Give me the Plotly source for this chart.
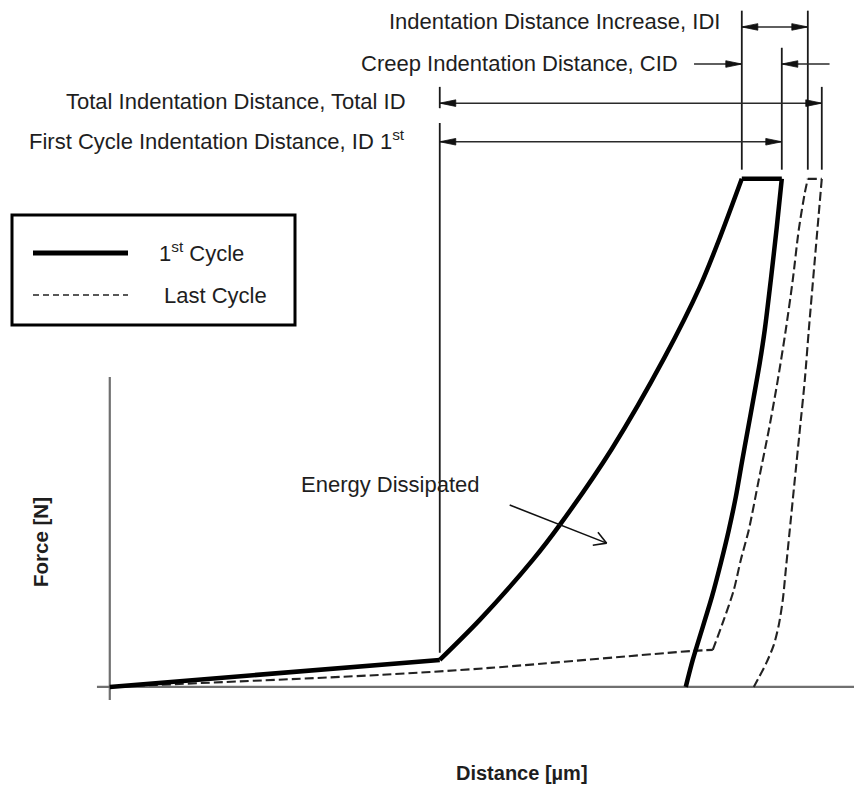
import math
import plotly.graph_objects as go

# ---------------------------------------------------------------------------
# Indentation cycle data (distance in arbitrary µm units, force in % of peak)
# ---------------------------------------------------------------------------
# First cycle: loading branch (linear approach, then contact curve up to peak)
first_load_x = [0, 46.29, 51.90, 59.34, 63.13, 70.42, 77.86, 82.77, 85.57, 88.66]
first_load_y = [0, 5.31, 13.19, 25.00, 31.89, 46.84, 64.95, 78.73, 88.37, 100]
# First cycle: unloading branch (starts after the hold at peak force)
first_unload_x = [94.27, 93.57, 92.73, 91.88, 91.18, 90.34, 89.50, 88.66, 87.82, 86.84, 85.72, 84.46, 81.78, 80.80]
first_unload_y = [100, 90.54, 80.11, 70.27, 63.77, 57.08, 50.58, 44.09, 37.40, 30.90, 24.40, 17.71, 5.31, 0]

# Last cycle: loading branch (approach up to contact, then contact curve)
last_load_x = [0, 37.88, 53.31, 81.78, 84.59, 86.13, 87.54, 88.52, 89.64, 91.04, 92.45, 93.71, 94.83, 95.81, 96.65, 97.50, 97.92]
last_load_y = [0, 2.36, 3.74, 7.09, 7.28, 13.19, 19.09, 25.00, 30.90, 40.74, 50.58, 60.42, 70.27, 80.11, 89.95, 97.23, 100]
# Last cycle: unloading branch
last_unload_x = [99.88, 98.90, 98.06, 97.50, 96.80, 96.09, 95.39, 94.83, 94.41, 93.85, 93.15, 92.17, 91.18, 90.34]
last_unload_y = [100, 84.04, 70.27, 60.42, 50.58, 40.74, 30.90, 23.03, 17.12, 12.20, 8.27, 4.92, 2.17, 0]

# index of the contact point on each loading branch
FIRST_CONTACT = 1
LAST_CONTACT = 4

series_names = ["1st Cycle", "Last Cycle"]

# Dimension labels
label_idi = "Indentation Distance Increase, IDI"
label_cid = "Creep Indentation Distance, CID"
label_total = "Total Indentation Distance, Total ID"
label_first = "First Cycle Indentation Distance, ID 1<sup>st</sup>"
label_energy = "Energy Dissipated"
x_title = "Distance [µm]"
y_title = "Force [N]"

# ---------------------------------------------------------------------------
# Layout / style constants
# ---------------------------------------------------------------------------
W, H = 854, 787
X_RANGE = [-15.4, 104.4]
Y_RANGE = [-19.7, 135.2]
KX = W / (X_RANGE[1] - X_RANGE[0])   # pixels per x unit
KY = H / (Y_RANGE[1] - Y_RANGE[0])   # pixels per y unit

FONT = "Liberation Sans, Arial, sans-serif"
TXT = "#1e1e1e"
AXIS_COLOR = "#707070"
FIRST_STYLE = dict(color="black", width=4.5)
LAST_STYLE = dict(color="#222222", width=2.1, dash="9px,4px")

# dimension rows (force level of each dimension line)
ROW_IDI, ROW_CID, ROW_TOTAL, ROW_FIRST = 129.9, 122.6, 114.9, 107.3
EXT_OVERSHOOT = 3.2      # extension lines stick out above the arrow row
EXT_GAP_TOP = 1.8        # gap between curve corners and extension lines
EXT_GAP_KNEE = 1.4
LEADER = 6.7             # length of the outside CID leaders

# characteristic points taken from the curves
knee_x, knee_y = first_load_x[FIRST_CONTACT], first_load_y[FIRST_CONTACT]
f_top_l, f_top_r = first_load_x[-1], first_unload_x[0]
l_top_l, l_top_r = last_load_x[-1], last_unload_x[0]
peak = first_load_y[-1]

fig = go.Figure()


def path(xs, ys, style, name, shape="linear"):
    fig.add_trace(go.Scatter(x=xs, y=ys, mode="lines", name=name,
                             line=dict(shape=shape, smoothing=0.8, **style),
                             hoverinfo="skip", showlegend=False))


# axes drawn as crossing lines through the origin
axis_x_extent = [-1.8, X_RANGE[1]]
axis_y_extent = [-2.6, 61.0]
path(axis_x_extent, [0, 0], dict(color=AXIS_COLOR, width=2.2), "x axis")
path([0, 0], axis_y_extent, dict(color=AXIS_COLOR, width=2.2), "y axis")

# last cycle: approach, contact loading, hold, unloading
c = LAST_CONTACT
path(last_load_x[:c + 1], last_load_y[:c + 1], LAST_STYLE, series_names[1], "spline")
path(last_load_x[c:], last_load_y[c:], LAST_STYLE, series_names[1], "spline")
path([l_top_l, l_top_r], [peak, peak], LAST_STYLE, series_names[1])
path(last_unload_x, last_unload_y, LAST_STYLE, series_names[1], "spline")

# first cycle: approach, contact loading, hold, unloading
c = FIRST_CONTACT
path(first_load_x[:c + 1], first_load_y[:c + 1], FIRST_STYLE, series_names[0])
path(first_load_x[c:], first_load_y[c:], FIRST_STYLE, series_names[0], "spline")
path([f_top_l, f_top_r], [peak, peak], FIRST_STYLE, series_names[0])
path(first_unload_x, first_unload_y, FIRST_STYLE, series_names[0], "spline")

# ---------------------------------------------------------------------------
# Dimension lines
# ---------------------------------------------------------------------------
ext_x, ext_y = [], []
hl_x, hl_y = [], []
head_x, head_y = [], []


def ext_line(x, y0, y1):
    ext_x.extend([x, x, None])
    ext_y.extend([y0, y1, None])


def head(xt, y, direction, length=16, half=3.3):
    """Filled arrowhead with its tip at (xt, y), pointing +1 (right) or -1 (left)."""
    xb = xt - direction * length / KX
    head_x.extend([xt, xb, xb, xt, None])
    head_y.extend([y, y + half / KY, y - half / KY, y, None])


def dim(x0, x1, y, heads):
    hl_x.extend([x0, x1, None])
    hl_y.extend([y, y, None])
    for xt, d in heads:
        head(xt, y, d)


# extension lines
ext_line(knee_x, knee_y + EXT_GAP_KNEE, 111.0)
ext_line(knee_x, 113.9, ROW_TOTAL + EXT_OVERSHOOT)
ext_line(f_top_l, peak + EXT_GAP_TOP, ROW_IDI + EXT_OVERSHOOT)
ext_line(f_top_r, peak + EXT_GAP_TOP, ROW_CID + EXT_OVERSHOOT)
ext_line(l_top_l, peak + EXT_GAP_TOP, ROW_IDI + EXT_OVERSHOOT)
ext_line(l_top_r, peak + EXT_GAP_TOP, ROW_TOTAL + EXT_OVERSHOOT)

# IDI: between the starts of the hold in the first and last cycles
dim(f_top_l, l_top_l, ROW_IDI, [(f_top_l, -1), (l_top_l, 1)])
# CID: creep during the hold of the first cycle, arrows from outside
dim(f_top_l - LEADER, f_top_l, ROW_CID, [(f_top_l, 1)])
dim(f_top_r + LEADER, f_top_r, ROW_CID, [(f_top_r, -1)])
# Total ID and first-cycle ID measured from the contact knee
dim(knee_x, l_top_r, ROW_TOTAL, [(knee_x, -1), (l_top_r, 1)])
dim(knee_x, f_top_r, ROW_FIRST, [(knee_x, -1), (f_top_r, 1)])

path(ext_x, ext_y, dict(color="#1a1a1a", width=1.8), "extension lines")
path(hl_x, hl_y, dict(color="#2a2a2a", width=1.5), "dimension lines")
fig.add_trace(go.Scatter(x=head_x, y=head_y, mode="lines", fill="toself", fillcolor="#111111",
                         line=dict(color="#111111", width=0.8), hoverinfo="skip", showlegend=False))

# ---------------------------------------------------------------------------
# "Energy Dissipated" pointer with an open arrowhead
# ---------------------------------------------------------------------------
energy_tail = (56.1, 35.8)
energy_tip = (69.7, 28.3)
dxp = (energy_tip[0] - energy_tail[0]) * KX
dyp = (energy_tip[1] - energy_tail[1]) * KY
ang = math.atan2(dyp, dxp)
arm = 14
ptr_x = [energy_tail[0], energy_tip[0], None]
ptr_y = [energy_tail[1], energy_tip[1], None]
for s in (1, -1):
    a = ang + math.pi - s * math.radians(30)
    ptr_x.extend([energy_tip[0], energy_tip[0] + arm * math.cos(a) / KX, None])
    ptr_y.extend([energy_tip[1], energy_tip[1] + arm * math.sin(a) / KY, None])
path(ptr_x, ptr_y, dict(color="#111111", width=1.6), "pointer")


# ---------------------------------------------------------------------------
# Text
# ---------------------------------------------------------------------------
def label(text, x, y, size=22, anchor="right", bold=False, ref="data", angle=0, yanchor="middle"):
    fig.add_annotation(
        text=f"<b>{text}</b>" if bold else text,
        x=x, y=y,
        xref="x" if ref == "data" else "paper",
        yref="y" if ref == "data" else "paper",
        xanchor=anchor, yanchor=yanchor, showarrow=False, textangle=angle,
        font=dict(family=FONT, size=size, color=TXT),
    )


label(label_idi, 85.85, 130.9)
label(label_cid, 79.96, 122.8)
label(label_total, 41.85, 115.3)
label(label_first, 41.75, 107.6)
label(label_energy, 39.4, 39.8, anchor="center")
label(x_title, 522 / W, 0.001, size=20, anchor="center", bold=True, ref="paper", yanchor="bottom")
label(y_title, 40 / W, 1 - 542 / H, size=20.5, anchor="center", bold=True, ref="paper", angle=-90)

# ---------------------------------------------------------------------------
# Legend box
# ---------------------------------------------------------------------------
fig.add_shape(type="rect", xref="paper", yref="paper",
              x0=12 / W, x1=295 / W, y0=1 - 325 / H, y1=1 - 215 / H,
              line=dict(color="black", width=3), fillcolor="white")
fig.add_shape(type="line", xref="paper", yref="paper",
              x0=33 / W, x1=128 / W, y0=1 - 253 / H, y1=1 - 253 / H,
              line=dict(color="black", width=5))
fig.add_shape(type="line", xref="paper", yref="paper",
              x0=33 / W, x1=128 / W, y0=1 - 295 / H, y1=1 - 295 / H,
              line=dict(color="#222222", width=1.5, dash="6px,4px"))
label("1<sup>st</sup> Cycle", 157 / W, 1 - 252 / H, anchor="left", ref="paper")
label(series_names[1], 162 / W, 1 - 295 / H, anchor="left", ref="paper")

fig.update_layout(
    width=W, height=H,
    margin=dict(l=0, r=0, t=0, b=0),
    paper_bgcolor="white", plot_bgcolor="white",
    xaxis=dict(range=X_RANGE, visible=False, fixedrange=True),
    yaxis=dict(range=Y_RANGE, visible=False, fixedrange=True),
    showlegend=False,
)

fig.write_html("out.html")
